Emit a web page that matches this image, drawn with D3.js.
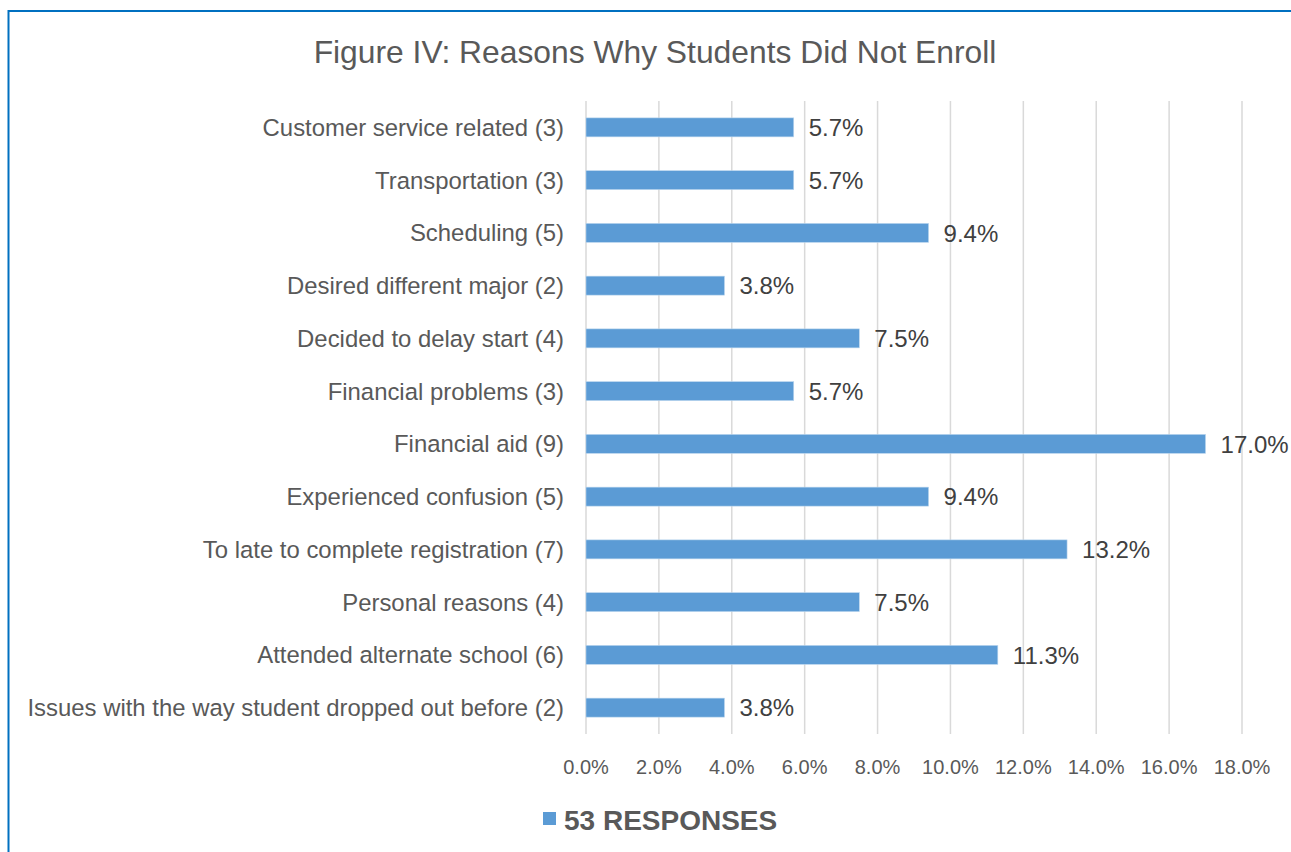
<!DOCTYPE html>
<html><head><meta charset="utf-8">
<script src="https://cdn.jsdelivr.net/npm/d3@7"></script>
<style>html,body{margin:0;padding:0;background:#fff;overflow:hidden}</style>
</head><body><svg id="c" width="1291" height="852"></svg>
<script>
const categories = ["Customer service related (3)","Transportation (3)","Scheduling (5)","Desired different major (2)","Decided to delay start (4)","Financial problems (3)","Financial aid (9)","Experienced confusion (5)","To late to complete registration (7)","Personal reasons (4)","Attended alternate school (6)","Issues with the way student dropped out before (2)"];
const values = [5.7,5.7,9.4,3.8,7.5,5.7,17.0,9.4,13.2,7.5,11.3,3.8];
const ticks = [0,2,4,6,8,10,12,14,16,18];
const title = "Figure IV: Reasons Why Students Did Not Enroll";
const seriesName = "53 RESPONSES";

const svg = d3.select("#c");
const font = "'Liberation Sans', Arial, sans-serif";
// frame
svg.append("path").attr("d","M8.5,852 V11 H1291").attr("fill","none").attr("stroke","#0070C0").attr("stroke-width",2);

const x = d3.scaleLinear().domain([0,18]).range([586,1242]);
const y = d3.scaleBand().domain(categories).range([101,734]).paddingInner(0.64).paddingOuter(0.32);

svg.append("g").selectAll("line").data(ticks).join("line")
  .attr("x1",d=>x(d)).attr("x2",d=>x(d)).attr("y1",101).attr("y2",734)
  .attr("stroke","#d9d9d9").attr("stroke-width",1.5);

svg.append("g").selectAll("rect").data(values).join("rect")
  .attr("x",x(0)).attr("y",(d,i)=>y(categories[i])).attr("width",d=>x(d)-x(0)).attr("height",y.bandwidth())
  .attr("fill","#5B9BD5").attr("stroke","#bdd7ee").attr("stroke-width",0.6);

svg.append("g").selectAll("text").data(values).join("text")
  .attr("x",d=>x(d)+15).attr("y",(d,i)=>y(categories[i])+y.bandwidth()/2).attr("dy","0.36em")
  .attr("font-family",font).attr("font-size",24).attr("fill","#404040").text(d=>d.toFixed(1)+"%");

svg.append("g").selectAll("text").data(categories).join("text")
  .attr("x",564).attr("y",d=>y(d)+y.bandwidth()/2).attr("dy","0.36em").attr("text-anchor","end")
  .attr("font-family",font).attr("font-size",23.9).attr("fill","#595959").text(d=>d);

svg.append("g").selectAll("text").data(ticks).join("text")
  .attr("x",d=>x(d)).attr("y",767).attr("dy","0.36em").attr("text-anchor","middle")
  .attr("font-family",font).attr("font-size",20).attr("fill","#595959").text(d=>d.toFixed(1)+"%");

svg.append("text").attr("x",655).attr("y",52).attr("dy","0.36em").attr("text-anchor","middle")
  .attr("font-family",font).attr("font-size",31.8).attr("fill","#595959").text(title);

svg.append("rect").attr("x",543).attr("y",812).attr("width",13).attr("height",13).attr("fill","#5B9BD5");
svg.append("text").attr("x",564).attr("y",820).attr("dy","0.36em")
  .attr("font-family",font).attr("font-size",28).attr("font-weight","bold").attr("fill","#595959").text(seriesName);
</script></body></html>
